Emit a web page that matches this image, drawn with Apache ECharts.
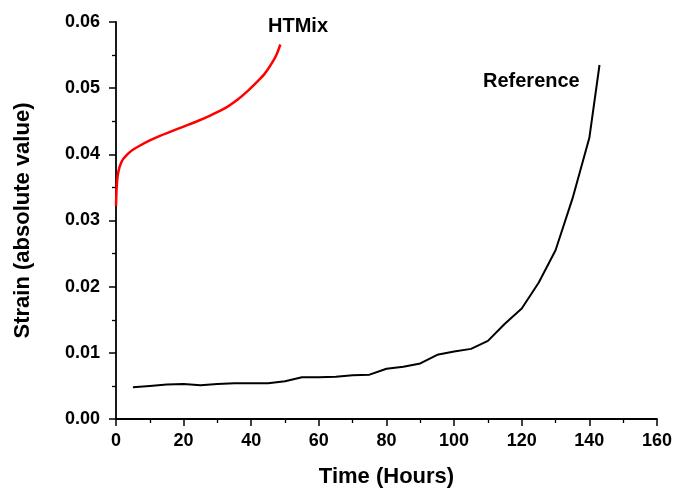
<!DOCTYPE html>
<html>
<head>
<meta charset="utf-8">
<script src="https://cdn.jsdelivr.net/npm/echarts@6/dist/echarts.min.js"></script>
<style>
html,body{margin:0;padding:0;background:#fff;}
#chart{width:675px;height:493px;}
</style>
</head>
<body>
<div id="chart"></div>
<script>
// HTMix strain curve (time in hours, absolute strain)
const htmixTime = [0, 0.2, 0.5, 1, 1.5, 2, 3, 4, 5, 7, 10, 13, 16, 20, 24, 28, 32, 36, 39, 42, 44, 46, 47.5, 48.6];
const htmixStrain = [0.0322, 0.0350, 0.0368, 0.0380, 0.0387, 0.0392, 0.0398, 0.0403, 0.0407, 0.0413, 0.0421, 0.0428, 0.0434, 0.0442, 0.0450, 0.0459, 0.0469, 0.0483, 0.0496, 0.0511, 0.0522, 0.0537, 0.0551, 0.0566];

// Reference mix strain curve
const refTime = [5, 10, 15, 20, 25, 30, 35, 40, 45, 50, 55, 60, 65, 70, 75, 80, 85, 90, 95, 100, 105, 110, 115, 120, 125, 130, 135, 140, 143];
const refStrain = [0.0048, 0.0050, 0.0052, 0.0053, 0.0051, 0.0053, 0.0054, 0.0054, 0.0054, 0.0057, 0.0063, 0.0063, 0.0064, 0.0066, 0.0067, 0.0076, 0.0079, 0.0084, 0.0097, 0.0102, 0.0106, 0.0118, 0.0144, 0.0167, 0.0206, 0.0255, 0.0333, 0.0425, 0.0535];

// Axis tick labels
const xTicks = [0, 20, 40, 60, 80, 100, 120, 140, 160];
const yTicks = ['0.00', '0.01', '0.02', '0.03', '0.04', '0.05', '0.06'];

const zip = (a, b) => a.map((v, i) => [v, b[i]]);
const font = '"Liberation Sans", Arial, sans-serif';

const chart = echarts.init(document.getElementById('chart'));
chart.setOption({
  animation: false,
  backgroundColor: '#fff',
  grid: { left: 116, right: 18, top: 22, bottom: 74 },
  xAxis: {
    type: 'value',
    min: xTicks[0], max: xTicks[xTicks.length - 1], interval: 20,
    name: 'Time (Hours)', nameLocation: 'middle', nameGap: 47,
    nameTextStyle: { fontFamily: font, fontWeight: 'bold', fontSize: 22, color: '#000' },
    axisLine: { lineStyle: { color: '#000', width: 1.8 } },
    axisTick: { length: 7, lineStyle: { color: '#000', width: 1.5 } },
    minorTick: { show: true, splitNumber: 2, length: 4, lineStyle: { color: '#000', width: 1.3 } },
    axisLabel: { fontFamily: font, fontWeight: 'bold', fontSize: 18, color: '#000', margin: 13,
      formatter: v => xTicks.includes(v) ? String(v) : '' },
    splitLine: { show: false }
  },
  yAxis: {
    type: 'value',
    min: 0, max: 0.06, interval: 0.01,
    name: 'Strain (absolute value)', nameLocation: 'middle', nameGap: 82,
    nameTextStyle: { fontFamily: font, fontWeight: 'bold', fontSize: 22, color: '#000' },
    axisLine: { show: true, lineStyle: { color: '#000', width: 1.8 } },
    axisTick: { show: true, length: 7, lineStyle: { color: '#000', width: 1.5 } },
    minorTick: { show: true, splitNumber: 2, length: 4, lineStyle: { color: '#000', width: 1.3 } },
    axisLabel: { fontFamily: font, fontWeight: 'bold', fontSize: 18, color: '#000', margin: 16,
      formatter: v => yTicks[Math.round(v * 100)] },
    splitLine: { show: false }
  },
  series: [
    {
      name: 'HTMix', type: 'line', data: zip(htmixTime, htmixStrain),
      smooth: 0.3, showSymbol: false, lineStyle: { color: '#ff0000', width: 2.5 }
    },
    {
      name: 'Reference', type: 'line', data: zip(refTime, refStrain),
      showSymbol: false, lineStyle: { color: '#000', width: 2 }
    }
  ],
  graphic: [
    { type: 'text', x: 268, y: 26, style: { text: 'HTMix', font: 'bold 20px ' + font, fill: '#000', verticalAlign: 'middle' } },
    { type: 'text', x: 483, y: 81, style: { text: 'Reference', font: 'bold 20px ' + font, fill: '#000', verticalAlign: 'middle' } }
  ]
});
</script>
</body>
</html>
